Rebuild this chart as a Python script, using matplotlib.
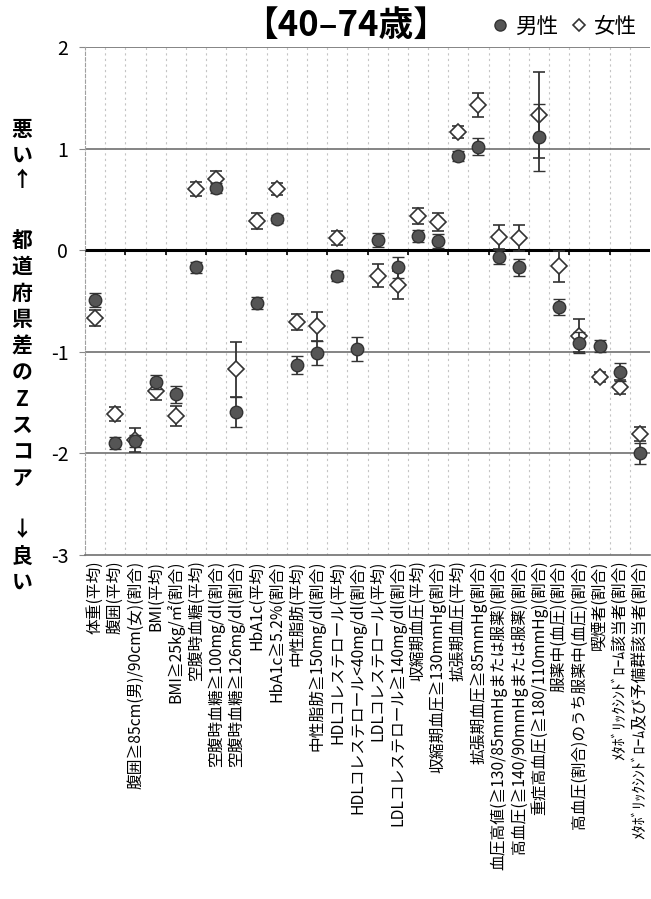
import numpy as np
import matplotlib
matplotlib.use("Agg")
import matplotlib.pyplot as plt
from matplotlib.lines import Line2D

plt.rcParams['font.family'] = ['Noto Sans CJK JP', 'DejaVu Sans']

categories = [
    "体重(平均)",
    "腹囲(平均)",
    "腹囲≧85cm(男)/90cm(女)(割合)",
    "BMI(平均)",
    "BMI≧25kg/㎡(割合)",
    "空腹時血糖(平均)",
    "空腹時血糖≧100mg/dl(割合)",
    "空腹時血糖≧126mg/dl(割合)",
    "HbA1c(平均)",
    "HbA1c≧5.2%(割合)",
    "中性脂肪(平均)",
    "中性脂肪≧150mg/dl(割合)",
    "HDLコレステロール(平均)",
    "HDLコレステロール<40mg/dl(割合)",
    "LDLコレステロール(平均)",
    "LDLコレステロール≧140mg/dl(割合)",
    "収縮期血圧(平均)",
    "収縮期血圧≧130mmHg(割合)",
    "拡張期血圧(平均)",
    "拡張期血圧≧85mmHg(割合)",
    "血圧高値(≧130/85mmHgまたは服薬)(割合)",
    "高血圧(≧140/90mmHgまたは服薬)(割合)",
    "重症高血圧(≧180/110mmHg)(割合)",
    "服薬中(血圧)(割合)",
    "高血圧(割合)のうち服薬中(血圧)(割合)",
    "喫煙者(割合)",
    "ﾒﾀﾎﾞﾘｯｸｼﾝﾄﾞﾛｰﾑ該当者(割合)",
    "ﾒﾀﾎﾞﾘｯｸｼﾝﾄﾞﾛｰﾑ及び予備群該当者(割合)",
]

male = [-0.49, -1.90, -1.88, -1.30, -1.42, -0.17, 0.61, -1.59, -0.52, 0.31,
        -1.13, -1.01, -0.25, -0.97, 0.10, -0.17, 0.14, 0.09, 0.93, 1.02,
        -0.07, -0.17, 1.11, -0.56, -0.91, -0.94, -1.20, -2.00]
male_err = [0.07, 0.06, 0.06, 0.07, 0.08, 0.05, 0.05, 0.15, 0.06, 0.04,
            0.09, 0.12, 0.05, 0.12, 0.07, 0.10, 0.06, 0.07, 0.05, 0.08,
            0.07, 0.08, 0.33, 0.08, 0.10, 0.06, 0.09, 0.10]

female = [-0.67, -1.61, -1.87, -1.39, -1.63, 0.60, 0.70, -1.17, 0.29, 0.60,
          -0.71, -0.75, 0.12, np.nan, -0.25, -0.34, 0.34, 0.28, 1.16, 1.43,
          0.13, 0.12, 1.33, -0.16, -0.84, -1.25, -1.35, -1.81]
female_err = [0.08, 0.07, 0.12, 0.08, 0.10, 0.07, 0.08, 0.27, 0.08, 0.06,
              0.08, 0.14, 0.07, np.nan, 0.11, 0.14, 0.08, 0.09, 0.06, 0.12,
              0.12, 0.13, 0.42, 0.15, 0.16, 0.05, 0.07, 0.07]

yticks = [2, 1, 0, -1, -2, -3]
title = "【40–74歳】"
legend_labels = ["男性", "女性"]

W, H = 651, 899
fig = plt.figure(figsize=(W / 100, H / 100), dpi=100)
ax = fig.add_axes([85 / W, 1 - 555 / H, (650 - 85) / W, (555 - 47) / H])

x = np.arange(len(categories))
ax.set_xlim(-0.5, len(categories) - 0.5)
ax.set_ylim(-3, 2)

# vertical dotted grid at category boundaries
for b in np.arange(0.5, len(categories) - 0.5, 1.0):
    ax.axvline(b, color='#c4c4c4', lw=0.8, ls=(0, (2, 3)), zorder=0)
# horizontal grid
for yv in [2, 1, -1, -2]:
    ax.axhline(yv, color='#707070', lw=1.2, zorder=1)
ax.axhline(0, color='black', lw=2.2, zorder=2)
ax.vlines(np.arange(1.5, len(categories) - 0.5, 2.0), -0.05, 0, color='black', lw=1.2, zorder=2)

ax.errorbar(x, female, yerr=female_err, fmt='D', ms=8, mfc='white', mec='#333333',
            mew=1.2, ecolor='#333333', elinewidth=1.3, capsize=4, capthick=1.3, zorder=3)
ax.errorbar(x, male, yerr=male_err, fmt='o', ms=9, mfc='#555555', mec='#333333',
            mew=1.0, ecolor='#333333', elinewidth=1.3, capsize=4, capthick=1.3, zorder=4)

for s in ['top', 'right']:
    ax.spines[s].set_visible(False)
ax.spines['left'].set_color('#a0a0a0')
ax.spines['left'].set_linestyle((0, (3, 2)))
ax.spines['bottom'].set_color('#707070')
ax.spines['bottom'].set_linewidth(1.2)

ax.set_yticks(yticks)
ax.set_yticklabels([str(v) for v in yticks], fontsize=14)
ax.tick_params(axis='y', length=4, color='#888888', pad=8)
ax.set_xticks(x)
ax.set_xticklabels(categories, rotation=90, fontsize=11.3, va='top', ha='center')
ax.tick_params(axis='x', length=0, pad=4)

fig.text(346 / W, 1 - 25 / H, title, fontsize=25, fontweight='bold', ha='center', va='center')

handles = [Line2D([], [], ls='none', marker='o', ms=8, mfc='#555555', mec='#333333'),
           Line2D([], [], ls='none', marker='D', ms=6, mfc='white', mec='#333333', mew=1.2)]
fig.legend(handles, legend_labels, loc='center right', bbox_to_anchor=(646 / W, 1 - 27 / H),
           ncol=2, frameon=False, fontsize=15.5, handlelength=0.8, handletextpad=0.3,
           columnspacing=0.6, borderaxespad=0)

# vertical stacked y-axis label
def vchars(chars, ys):
    for c, yy in zip(chars, ys):
        fig.text(22 / W, 1 - yy / H, c, fontsize=15, ha='center', va='center', fontweight='bold')

vchars("悪い↑", [130, 155, 180])
vchars("都道府県差のZスコア", [240 + 26.5 * k for k in range(10)])
vchars("↓良い", [530, 556, 582])

fig.savefig("out.png", dpi=100)
